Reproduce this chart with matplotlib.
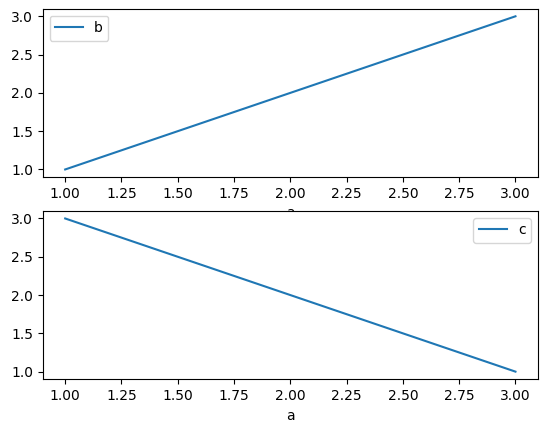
import matplotlib
matplotlib.use("Agg")
import matplotlib.pyplot as plt

# data
a = [1, 2, 3]
b = [1, 2, 3]
c = [3, 2, 1]

fig, (ax1, ax2) = plt.subplots(2, 1, figsize=(5.47, 4.32), dpi=100)
fig.subplots_adjust(left=0.078, right=0.9835, top=0.980, bottom=0.122, hspace=0.2)

# top panel
ax1.plot(a, b, label="b")
ax1.set_xlabel("a")
ax1.legend(loc="upper left")

# bottom panel
ax2.plot(a, c, label="c")
ax2.set_xlabel("a")
ax2.legend(loc="upper right")

# top xlabel sits partly under the bottom axes, as in the reference
ax1.set_zorder(0)
ax2.set_zorder(1)

fig.savefig("out.png", dpi=100)
